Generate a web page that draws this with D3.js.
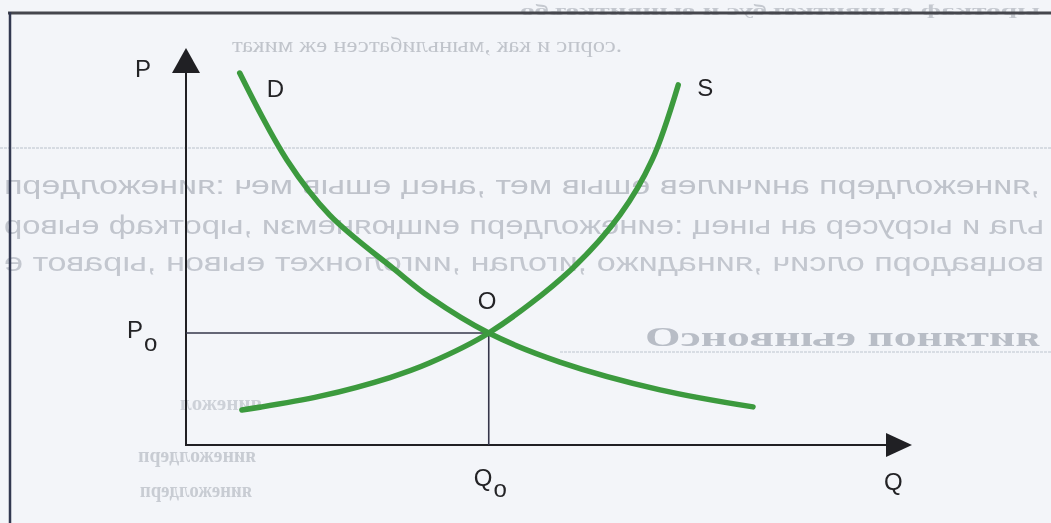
<!DOCTYPE html>
<html>
<head>
<meta charset="utf-8">
<script src="https://cdn.jsdelivr.net/npm/d3@7"></script>
<style>
  html, body { margin: 0; padding: 0; background: #f3f5f9; overflow: hidden; }
  svg { display: block; }
</style>
</head>
<body>
<svg id="chart" width="1051" height="523"></svg>
<script>
// Demand curve D: quantity / price pairs (arbitrary units, 0–100)
const demandQ = [7.4, 13.9, 19.8, 28.8, 33.6, 41.7, 51.5, 65.3, 78.1];
const demandP = [93.7, 71.8, 57.9, 44.1, 37.2, 28.2, 20.9, 13.9, 9.6];

// Supply curve S
const supplyQ = [7.7, 18.5, 28.1, 33.6, 41.7, 53.0, 59.8, 64.2, 67.8];
const supplyP = [8.8, 12.3, 17.0, 20.7, 28.2, 44.1, 58.0, 71.8, 90.7];

// Equilibrium point O
const equilibriumQ = 41.7;
const equilibriumP = 28.2;

// Labels
const axisNames = ["P", "Q"];
const curveNames = ["D", "S"];
const pointName = "O";
const subscript = "o";

// Faint print showing through from the other side of the page
const pageLines = [
  "объективные и субъективные факторы",
  "таким же нестабильным, как и спрос.",
  "предложения: чем выше цена, тем выше величина предложения,",
  "ровые факторы, изменяющие предложение: цены на ресурсы и аль",
  "е товары, новые технологии, налоги, ожидания, число продавцов",
  "Основные понятия",
  "ложения",
  "предложения",
  "предложения"
];

const W = 1051, H = 523;
const svg = d3.select("#chart");

const x = d3.scaleLinear().domain([0, 100]).range([186, 912]);
const y = d3.scaleLinear().domain([0, 100]).range([445, 48]);

// paper
svg.append("rect").attr("width", W).attr("height", H).attr("fill", "#f3f5f9");

const defs = svg.append("defs");
defs.append("filter").attr("id", "soft")
  .append("feGaussianBlur").attr("stdDeviation", 0.7);

// ---- show-through text (glyphs mirrored, reading left to right) ----
const ghost = svg.append("g").attr("class", "ghost").attr("filter", "url(#soft)");
function mirrored(str, left, right, baseline, size, family, weight, color) {
  const cx = (left + right) / 2;
  ghost.append("g")
    .attr("transform", `translate(${cx},${baseline}) scale(-1,1)`)
    .append("text")
    .attr("text-anchor", "middle")
    .attr("textLength", right - left)
    .attr("lengthAdjust", "spacingAndGlyphs")
    .attr("font-family", family)
    .attr("font-size", size)
    .attr("font-weight", weight)
    .attr("fill", color)
    .text([...str].reverse().join(""));
}
const serif = "'Liberation Serif', 'DejaVu Serif', serif";
const sans = "'Liberation Sans', Arial, sans-serif";
mirrored(pageLines[0], 520, 1040, 15, 14, serif, "bold", "#c4c8cf");
mirrored(pageLines[1], 232, 622, 52, 22, serif, "normal", "#c0c4cb");
mirrored(pageLines[2], 4, 1040, 194, 25, sans, "normal", "#bfc3cb");
mirrored(pageLines[3], 4, 1044, 234, 25, sans, "normal", "#c1c5cd");
mirrored(pageLines[4], 4, 1044, 271, 25, sans, "normal", "#c3c7cf");
mirrored(pageLines[5], 645, 1040, 346, 28, serif, "bold", "#b8bdc6");
mirrored(pageLines[6], 180, 262, 410, 20, serif, "bold", "#cdd1d8");
mirrored(pageLines[7], 138, 256, 462, 21, serif, "bold", "#c8ccd3");
mirrored(pageLines[8], 140, 252, 497, 21, serif, "bold", "#c8ccd3");

ghost.append("line").attr("x1", 0).attr("x2", W).attr("y1", 148).attr("y2", 148)
  .attr("stroke", "#cdd2da").attr("stroke-width", 1.5).attr("stroke-dasharray", "3,1");
ghost.append("line").attr("x1", 560).attr("x2", W).attr("y1", 352).attr("y2", 352)
  .attr("stroke", "#d0d5dd").attr("stroke-width", 1.5).attr("stroke-dasharray", "3,1");

// ---- page frame ----
svg.append("line").attr("x1", 8).attr("x2", W).attr("y1", 13).attr("y2", 13)
  .attr("stroke", "#45464d").attr("stroke-width", 3);
svg.append("line").attr("x1", 10).attr("x2", 10).attr("y1", 12).attr("y2", H)
  .attr("stroke", "#323850").attr("stroke-width", 2.5);

// ---- axes ----
const ink = "#202024";
const axes = svg.append("g");
axes.append("line")
  .attr("x1", x(0)).attr("x2", x(0))
  .attr("y1", y(0) + 1).attr("y2", y(100) + 20)
  .attr("stroke", ink).attr("stroke-width", 2);
axes.append("path")
  .attr("d", `M${x(0)},${y(100)} L${x(0) + 14},${y(100) + 25} L${x(0) - 14},${y(100) + 25} Z`)
  .attr("fill", ink);
axes.append("line")
  .attr("x1", x(0) - 1).attr("x2", x(100) - 20)
  .attr("y1", y(0)).attr("y2", y(0))
  .attr("stroke", ink).attr("stroke-width", 2);
axes.append("path")
  .attr("d", `M${x(100)},${y(0)} L${x(100) - 26},${y(0) - 12} L${x(100) - 26},${y(0) + 12} Z`)
  .attr("fill", ink);

// ---- equilibrium guides ----
svg.append("line")
  .attr("x1", x(0)).attr("x2", x(equilibriumQ))
  .attr("y1", y(equilibriumP)).attr("y2", y(equilibriumP))
  .attr("stroke", "#35364a").attr("stroke-width", 1.6);
svg.append("line")
  .attr("x1", x(equilibriumQ)).attr("x2", x(equilibriumQ))
  .attr("y1", y(equilibriumP)).attr("y2", y(0))
  .attr("stroke", "#35364a").attr("stroke-width", 1.6);

// ---- curves ----
const demand = demandQ.map((q, i) => ({ q, p: demandP[i] }));
const supply = supplyQ.map((q, i) => ({ q, p: supplyP[i] }));
const line = d3.line()
  .x(d => x(d.q)).y(d => y(d.p))
  .curve(d3.curveCatmullRom.alpha(0.5));
svg.selectAll("path.curve")
  .data([demand, supply])
  .join("path")
  .attr("class", "curve")
  .attr("d", line)
  .attr("fill", "none")
  .attr("stroke", "#3c9a3e")
  .attr("stroke-width", 5.5)
  .attr("stroke-linecap", "round");

// ---- labels ----
const labels = svg.append("g")
  .attr("font-family", sans).attr("font-size", 24).attr("fill", "#232326");
labels.append("text").attr("x", x(0) - 51).attr("y", y(100) + 29).text(axisNames[0]);
labels.append("text").attr("x", x(100) - 28).attr("y", y(0) + 45).text(axisNames[1]);
labels.append("text").attr("x", x(demand[0].q) + 27).attr("y", y(demand[0].p) + 24).text(curveNames[0]);
const sEnd = supply[supply.length - 1];
labels.append("text").attr("x", x(sEnd.q) + 19).attr("y", y(sEnd.p) + 11).text(curveNames[1]);
labels.append("text").attr("x", x(equilibriumQ) - 11).attr("y", y(equilibriumP) - 24).text(pointName);

const p0 = labels.append("text").attr("x", x(0) - 59).attr("y", y(equilibriumP) + 5);
p0.append("tspan").text(axisNames[0]);
p0.append("tspan").attr("dy", 13).attr("dx", 1).text(subscript);

const q0 = labels.append("text").attr("x", x(equilibriumQ) - 15).attr("y", y(0) + 41);
q0.append("tspan").text(axisNames[1]);
q0.append("tspan").attr("dy", 11).attr("dx", 1).text(subscript);
</script>
</body>
</html>
